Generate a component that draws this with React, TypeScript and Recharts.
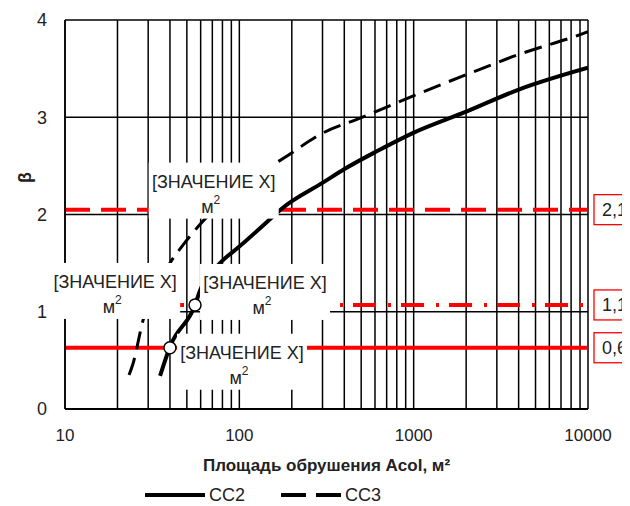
import {
  ComposedChart,
  Line,
  XAxis,
  YAxis,
  CartesianGrid,
  ReferenceLine,
  ReferenceDot,
  Legend,
} from 'recharts';

const FONT = '"Liberation Sans Narrow", "Arial Narrow", "Liberation Sans", Arial, sans-serif';

// curve CC2 (solid), x = area in m2, b = beta
const cc2X = [35.1, 40, 55.7, 59.5, 77.5, 100, 143.5, 175, 303, 403, 614, 995, 2018, 4074, 10000];
const cc2B = [0.34, 0.64, 1.07, 1.22, 1.5, 1.67, 1.92, 2.06, 2.33, 2.47, 2.65, 2.84, 3.06, 3.29, 3.51];

// curve CC3 (dashed)
const cc3X = [23.3, 24.5, 28, 40, 48.7, 59.6, 150, 180, 303, 492, 995, 2018, 4074, 9020, 10000];
const cc3B = [0.35, 0.46, 0.91, 1.5, 1.71, 1.9, 2.49, 2.58, 2.84, 2.99, 3.22, 3.44, 3.65, 3.85, 3.88];

// red target levels and the tags drawn next to them
const levelValues = [2.05, 1.07, 0.63];
const levelTags = ['2,1', '1,1', '0,6'];

// intersection points that carry a data label
const markX = [40, 55.7, 175, 30.8];
const markB = [0.63, 1.07, 2.05, 1.07];
const markCircle = [true, true, false, false];
const markText = '[ЗНАЧЕНИЕ X]';
const markUnit = 'м';

const decades = [10, 100, 1000, 10000];
const yTicks = [0, 1, 2, 3, 4];

const xTicks: number[] = [];
decades.forEach((d, i) => {
  if (i === decades.length - 1) {
    xTicks.push(d);
    return;
  }
  for (let k = 1; k <= 9; k++) xTicks.push(d * k);
});

const cc2 = cc2X.map((x, i) => ({ x, b: cc2B[i] }));
const cc3 = cc3X.map((x, i) => ({ x, b: cc3B[i] }));

const levelStyle = [
  { dash: '25 11' },
  { dash: '23 12 3 10' },
  { dash: undefined },
];

// label box offsets from each mark, in pixels
const noteOffset = [
  [72, 14],
  [70, -13],
  [-68, -19],
  [-35, -14],
];

const Note = ({ cx, cy, idx }: any) => {
  const bx = cx + noteOffset[idx][0];
  const by = cy + noteOffset[idx][1];
  return (
    <g>
      <rect x={bx - 65} y={by - 28} width={130} height={56} fill="#fff" />
      <text x={bx} y={by - 9} textAnchor="middle" dominantBaseline="central" fontSize={18} fontFamily={FONT} fill="#222">
        {markText}
      </text>
      <text x={bx - 3} y={by + 16} textAnchor="middle" dominantBaseline="central" fontSize={18} fontFamily={FONT} fill="#222">
        {markUnit}
        <tspan dy={-7} fontSize={12}>2</tspan>
      </text>
    </g>
  );
};

const LevelTag = ({ viewBox, text }: any) => {
  const x = viewBox.x + viewBox.width + 6;
  const y = viewBox.y;
  return (
    <g>
      <rect x={x} y={y - 15} width={40} height={30} fill="#fff" stroke="#ff0000" strokeWidth={1.3} />
      <text x={x + 8} y={y} dominantBaseline="central" fontSize={18} fontFamily={FONT} fill="#222">
        {text}
      </text>
    </g>
  );
};

const LegendContent = ({ payload }: any) => (
  <div style={{ display: 'flex', justifyContent: 'center', paddingRight: 70, paddingTop: 9, fontFamily: FONT, fontSize: 18, lineHeight: '20px' }}>
    {(payload || []).map((p: any, i: number) => (
      <div key={i} style={{ display: 'flex', alignItems: 'center', marginLeft: i ? 36 : 0 }}>
        <svg width={60} height={10}>
          <line x1={0} y1={5} x2={60} y2={5} stroke="#000" strokeWidth={4} strokeDasharray={p.payload?.strokeDasharray ? '25 10' : undefined} />
        </svg>
        <span style={{ marginLeft: 4, color: '#222' }}>{p.value}</span>
      </div>
    ))}
  </div>
);

export default function App() {
  return (
    <ComposedChart width={622} height={498} margin={{ top: 12, right: 42, left: 0, bottom: 0 }}>
      <CartesianGrid stroke="#000" strokeWidth={1.5} />
      <XAxis
        type="number"
        dataKey="x"
        scale="log"
        domain={[10, 10000]}
        ticks={xTicks}
        interval={0}
        allowDataOverflow
        tickFormatter={(v) => (decades.includes(v) ? String(v) : '')}
        tick={{ fill: '#222', fontSize: 17, fontFamily: FONT }}
        tickLine={false}
        tickSize={10}
        tickMargin={10}
        axisLine={{ stroke: '#000', strokeWidth: 2 }}
        height={67}
        label={(props: any) => {
          const vb = props.viewBox;
          return (
            <text x={vb.x + vb.width / 2} y={vb.y + 62} textAnchor="middle" fontSize={17} fontWeight="bold" fontFamily={FONT} fill="#222">
              Площадь обрушения Acol, м²
            </text>
          );
        }}
      />
      <YAxis
        type="number"
        dataKey="b"
        domain={[0, 4]}
        ticks={yTicks}
        tick={{ fill: '#222', fontSize: 18, fontFamily: FONT }}
        tickLine={false}
        tickSize={10}
        tickMargin={8}
        axisLine={{ stroke: '#000', strokeWidth: 1.5 }}
        width={57}
        label={(props: any) => {
          const vb = props.viewBox;
          const x = 17;
          const y = vb.y + vb.height / 2 - 37;
          return (
            <text x={x} y={y} transform={`rotate(-90 ${x} ${y})`} textAnchor="middle" dominantBaseline="central" fontSize={18} fontWeight="bold" fontFamily={FONT} fill="#222">
              β
            </text>
          );
        }}
      />
      {levelValues.map((v, i) => (
        <ReferenceLine
          key={'l' + i}
          y={v}
          stroke="#ff0000"
          strokeWidth={4}
          strokeDasharray={levelStyle[i].dash}
          label={(p: any) => <LevelTag viewBox={p.viewBox} text={levelTags[i]} />}
        />
      ))}
      <Line data={cc2} dataKey="b" name="CC2" type="monotone" stroke="#000" strokeWidth={4} dot={false} isAnimationActive={false} />
      <Line data={cc3} dataKey="b" name="CC3" type="monotone" stroke="#000" strokeWidth={3} strokeDasharray="18 9" dot={false} isAnimationActive={false} />
      {markX.map((x, i) => (
        <ReferenceDot key={'n' + i} x={x} y={markB[i]} r={1} zIndex={1000} shape={(p: any) => <Note cx={p.cx} cy={p.cy} idx={i} />} />
      ))}
      {markX.map((x, i) =>
        markCircle[i] ? (
          <ReferenceDot key={'c' + i} x={x} y={markB[i]} r={6} zIndex={1001} fill="#fff" stroke="#000" strokeWidth={1.5} />
        ) : null,
      )}
      <Legend verticalAlign="bottom" height={30} content={<LegendContent />} />
    </ComposedChart>
  );
}
